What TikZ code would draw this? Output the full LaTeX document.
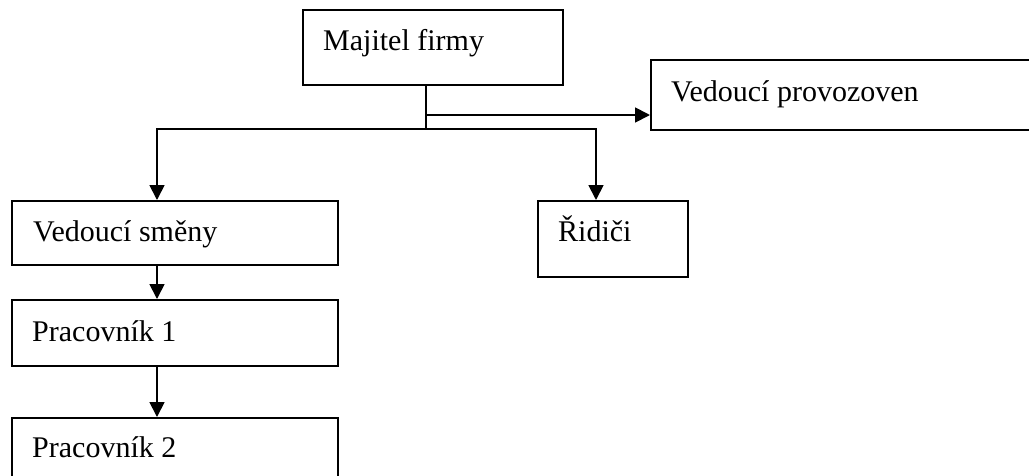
\documentclass[tikz,border=0pt]{standalone}
\usepackage{fontspec}
\setmainfont{Liberation Serif}
\usetikzlibrary{arrows.meta}
\begin{document}
\begin{tikzpicture}[x=1pt,y=-1pt,
  box/.style={draw,line width=1.8pt,rectangle,inner sep=0pt,anchor=north west},
  lbl/.style={anchor=base west,inner sep=0pt,font=\fontsize{30}{36}\selectfont},
  conn/.style={line width=1.8pt},
  arr/.style={conn,-{Triangle[length=15pt,width=15pt]}}]
\useasboundingbox (0,0) rectangle (1029,475);
\clip (0,0) rectangle (1029,475);
% boxes
\node[box,minimum width=260pt,minimum height=75pt] (maj) at (302,9) {};
\node[box,minimum width=390pt,minimum height=70pt] (prov) at (650,59) {};
\node[box,minimum width=150pt,minimum height=76pt] (rid) at (537,200) {};
\node[box,minimum width=326pt,minimum height=64pt] (ved) at (11,200) {};
\node[box,minimum width=326pt,minimum height=66pt] (p1) at (11,299) {};
\node[box,minimum width=326pt,minimum height=80pt] (p2) at (11,417) {};
% labels
\node[lbl] (tmaj) at (323,50) {Majitel firmy};
\node[lbl] (tprov) at (671,101) {Vedoucí provozoven};
\node[lbl] (trid) at (558,241) {Řidiči};
\node[lbl] (tved) at (33,241) {Vedoucí směny};
\node[lbl] (tp1) at (32,341) {Pracovník 1};
\node[lbl] (tp2) at (32,457) {Pracovník 2};
% connectors
\coordinate (j) at (426,129);
\coordinate (k) at (426,115);
\coordinate (lv) at (157,129);
\coordinate (rv) at (596,129);
\draw[conn] (maj.south -| j) -- (j);
\draw[arr] (k) -- (k -| prov.west);
\draw[arr] (j) -- (lv) -- (lv |- ved.north);
\draw[arr] (j) -- (rv) -- (rv |- rid.north);
\draw[arr] (ved.south -| lv) -- (p1.north -| lv);
\draw[arr] (p1.south -| lv) -- (p2.north -| lv);
\end{tikzpicture}
\end{document}
